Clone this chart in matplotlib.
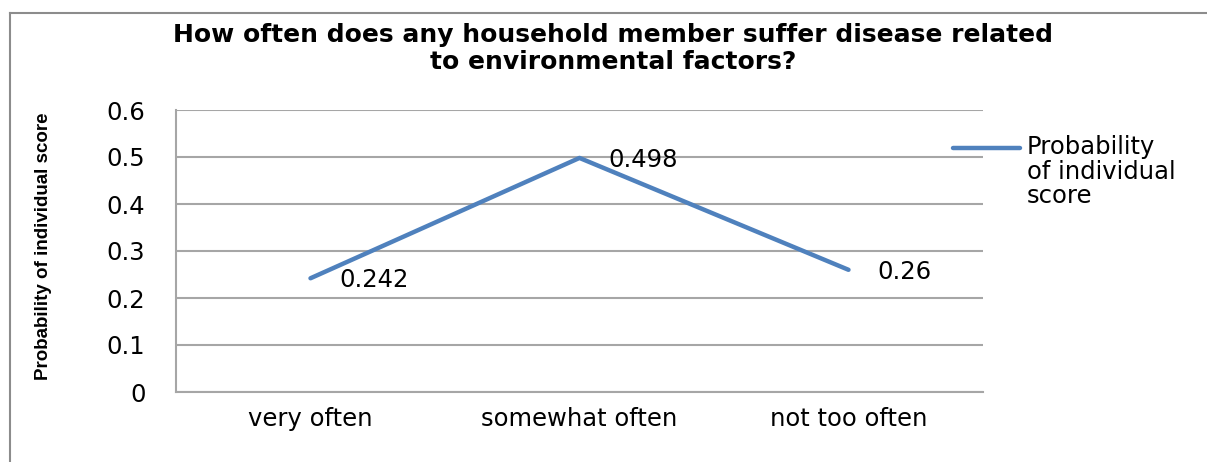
import matplotlib
matplotlib.use('Agg')
import matplotlib.pyplot as plt
from matplotlib.lines import Line2D

categories = ['very often', 'somewhat often', 'not too often']
values = [0.242, 0.498, 0.26]
yticks = [0, 0.1, 0.2, 0.3, 0.4, 0.5, 0.6]
series_name = 'Probability\nof individual\nscore'

line_color = '#4F81BD'
grid_color = '#A6A6A6'
fs = 17.5

fig = plt.figure(figsize=(12.07, 4.62), dpi=100)
ax = fig.add_axes([176/1207, 1 - 392/462, (983 - 176)/1207, (392 - 110)/462])

x = list(range(len(categories)))
ax.plot(x, values, color=line_color, lw=3.2, solid_capstyle='round', zorder=3)

for xi, v in zip(x, values):
    ax.annotate(str(v), (xi, v), xytext=(21, -1.5), textcoords='offset points',
                va='center', ha='left', fontsize=fs)

ax.set_xlim(-0.5, len(categories) - 0.5)
ax.set_ylim(0, 0.6)
ax.set_yticks(yticks)
ax.set_yticklabels([('%g' % t) for t in yticks])
ax.set_xticks(x)
ax.set_xticklabels(categories)
ax.tick_params(axis='both', length=0, labelsize=fs)
ax.tick_params(axis='y', pad=22)
ax.tick_params(axis='x', pad=11)

ax.grid(axis='y', color=grid_color, lw=1.5)
ax.set_axisbelow(True)
for s in ['top', 'right']:
    ax.spines[s].set_visible(False)
for s in ['left', 'bottom']:
    ax.spines[s].set_color(grid_color)
    ax.spines[s].set_linewidth(1.5)

# titles and axis label
fig.text(613/1207, 1 - 35/462, 'How often does any household member suffer disease related',
         ha='center', va='center', fontsize=18, fontweight='bold')
fig.text(613/1207, 1 - 62/462, 'to environmental factors?',
         ha='center', va='center', fontsize=18, fontweight='bold')
fig.text(44/1207, 1 - 246/462, 'Probability of individual score', rotation=90,
         ha='center', va='center', fontsize=13.5, fontweight='bold',
         family=['Liberation Sans Narrow', 'Liberation Sans', 'DejaVu Sans'])

# legend
fig.add_artist(Line2D([953/1207, 1020/1207], [1 - 148/462, 1 - 148/462],
                      color=line_color, lw=3.2, solid_capstyle='round'))
fig.text(1027/1207, 1 - 135/462, series_name, ha='left', va='top',
         fontsize=fs, linespacing=1.03)

# chart border
fig.add_artist(Line2D([10/1207, 10/1207], [0, 1 - 13/462], color='#8C8C8C', lw=1.5))
fig.add_artist(Line2D([10/1207, 1], [1 - 13/462, 1 - 13/462], color='#8C8C8C', lw=1.5))

fig.savefig('out.png', dpi=100)
